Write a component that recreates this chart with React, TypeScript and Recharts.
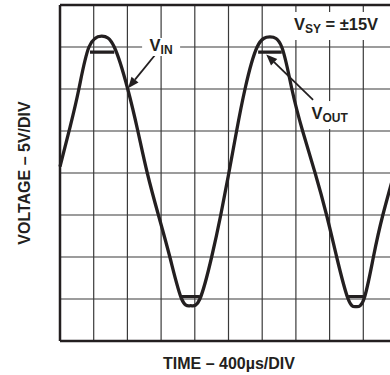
import React from 'react';
import { LineChart, Line, XAxis, YAxis, ReferenceLine, ReferenceDot } from 'recharts';

// time in divisions (400 µs/div), voltage in volts (5 V/div)
const xTicks = [0, 1, 2, 3, 4, 5, 6, 7, 8, 9, 10];
const yTicks = [-20, -15, -10, -5, 0, 5, 10, 15, 20];

const vinTime = [0, 0.30, 0.56, 0.86, 1.24, 1.61, 2.01, 2.31, 2.59, 2.92, 3.26, 3.61, 3.88, 4.15, 4.50, 4.77, 5.01, 5.24, 5.49, 5.85, 6.23, 6.58, 6.88, 7.20, 7.57, 7.91, 8.21, 8.55, 8.78, 9.02, 9.30, 9.58, 9.92, 10];
const vinVolts = [0.75, 5.5, 10, 15, 16.3, 15, 10, 5, 0, -5, -10, -15, -15.8, -15, -10, -5, 0, 5, 10, 15, 16.2, 15, 10, 5, 0, -5, -10, -15, -15.9, -15, -10, -5, 0, 1.2];

const voutTime = [0.89, 1.61, 2.5, 3.61, 4.15, 5.0, 5.88, 6.58, 7.5, 8.55, 9.02];
const voutVolts = [14.4, 14.4, null, -14.7, -14.7, null, 14.4, 14.4, null, -14.7, -14.7];

const vinData = vinTime.map((t, i) => ({ t, v: vinVolts[i] }));
const voutData = voutTime.map((t, i) => ({ t, v: voutVolts[i] }));

const FONT = '"Liberation Sans", Arial, Helvetica, sans-serif';
const INK = '#231f20';
const GRID = '#3a3a3a';

const Arrow = (props: any) => {
  const { x1, y1, x2, y2 } = props;
  const dx = x2 - x1;
  const dy = y2 - y1;
  const len = Math.sqrt(dx * dx + dy * dy) || 1;
  const ux = dx / len;
  const uy = dy / len;
  const hl = 11;
  const hw = 4.5;
  const bx = x2 - ux * hl;
  const by = y2 - uy * hl;
  const pts = `${x2},${y2} ${bx - uy * hw},${by + ux * hw} ${bx + uy * hw},${by - ux * hw}`;
  return (
    <g>
      <line x1={x1} y1={y1} x2={bx} y2={by} stroke={INK} strokeWidth={1.8} />
      <polygon points={pts} fill={INK} />
    </g>
  );
};

const makeLabel = (main: string, sub: string, rest: string, w: number, h: number) => (props: any) => {
  const { cx, cy } = props;
  return (
    <g>
      <rect x={cx - w / 2} y={cy - h / 2} width={w} height={h} fill="#fff" />
      <text x={cx} y={cy + 4} textAnchor="middle" fontFamily={FONT} fontWeight="bold" fontSize={16.5} fill={INK}>
        {main}
        <tspan fontSize={12} dy={3}>{sub}</tspan>
        {rest ? <tspan fontSize={16.5} dy={-3}>{rest}</tspan> : null}
      </text>
    </g>
  );
};

export default function App() {
  return (
    <div style={{ position: 'absolute', left: 0, top: 0, width: 390, height: 375, overflow: 'hidden', background: '#fff' }}>
      <LineChart width={420} height={375} margin={{ top: 5, right: 23, bottom: 34, left: 60 }}>
        <XAxis type="number" dataKey="t" domain={[0, 10]} ticks={xTicks} tick={false} tickLine={false} axisLine={false} height={0} />
        <YAxis type="number" domain={[-20, 20]} ticks={yTicks} tick={false} tickLine={false} axisLine={false} width={0} />
        {xTicks.map((x) => (
          <ReferenceLine key={'gx' + x} x={x} stroke={GRID} strokeWidth={1.2} />
        ))}
        {yTicks.map((y) => (
          <ReferenceLine key={'gy' + y} y={y} stroke={GRID} strokeWidth={1.2} />
        ))}
        <ReferenceLine x={0} stroke={INK} strokeWidth={2.5} />
        <ReferenceLine y={20} stroke={INK} strokeWidth={2.5} />
        <ReferenceLine y={-20} stroke={INK} strokeWidth={2.5} />
        <ReferenceDot x={3.0} y={15} r={0} shape={makeLabel('V', 'IN', '', 38, 18)} />
        <ReferenceDot x={8.0} y={6.9} r={0} shape={makeLabel('V', 'OUT', '', 46, 28)} />
        <ReferenceDot x={8.19} y={17.5} r={0} shape={makeLabel('V', 'SY', ' = ±15V', 104, 28)} />
        <Line data={vinData} dataKey="v" type="natural" stroke={INK} strokeWidth={3.3} dot={false} isAnimationActive={false} />
        <Line data={voutData} dataKey="v" type="linear" stroke={INK} strokeWidth={3.2} dot={false} connectNulls={false} isAnimationActive={false} />
        <ReferenceLine segment={[{ x: 2.82, y: 14.05 }, { x: 2.02, y: 10.1 }]} shape={Arrow} />
        <ReferenceLine segment={[{ x: 7.51, y: 8.7 }, { x: 6.12, y: 14.1 }]} shape={Arrow} />
      </LineChart>
      <div style={{ position: 'absolute', left: 25, top: 173, transform: 'translate(-50%, -50%) rotate(-90deg)', whiteSpace: 'nowrap', fontFamily: FONT, fontWeight: 'bold', fontSize: 16, color: INK, lineHeight: '16px' }}>
        VOLTAGE – 5V/DIV
      </div>
      <div style={{ position: 'absolute', left: 229, top: 364, transform: 'translate(-50%, -50%)', whiteSpace: 'nowrap', fontFamily: FONT, fontWeight: 'bold', fontSize: 16, color: INK, lineHeight: '16px' }}>
        TIME – 400µs/DIV
      </div>
    </div>
  );
}
